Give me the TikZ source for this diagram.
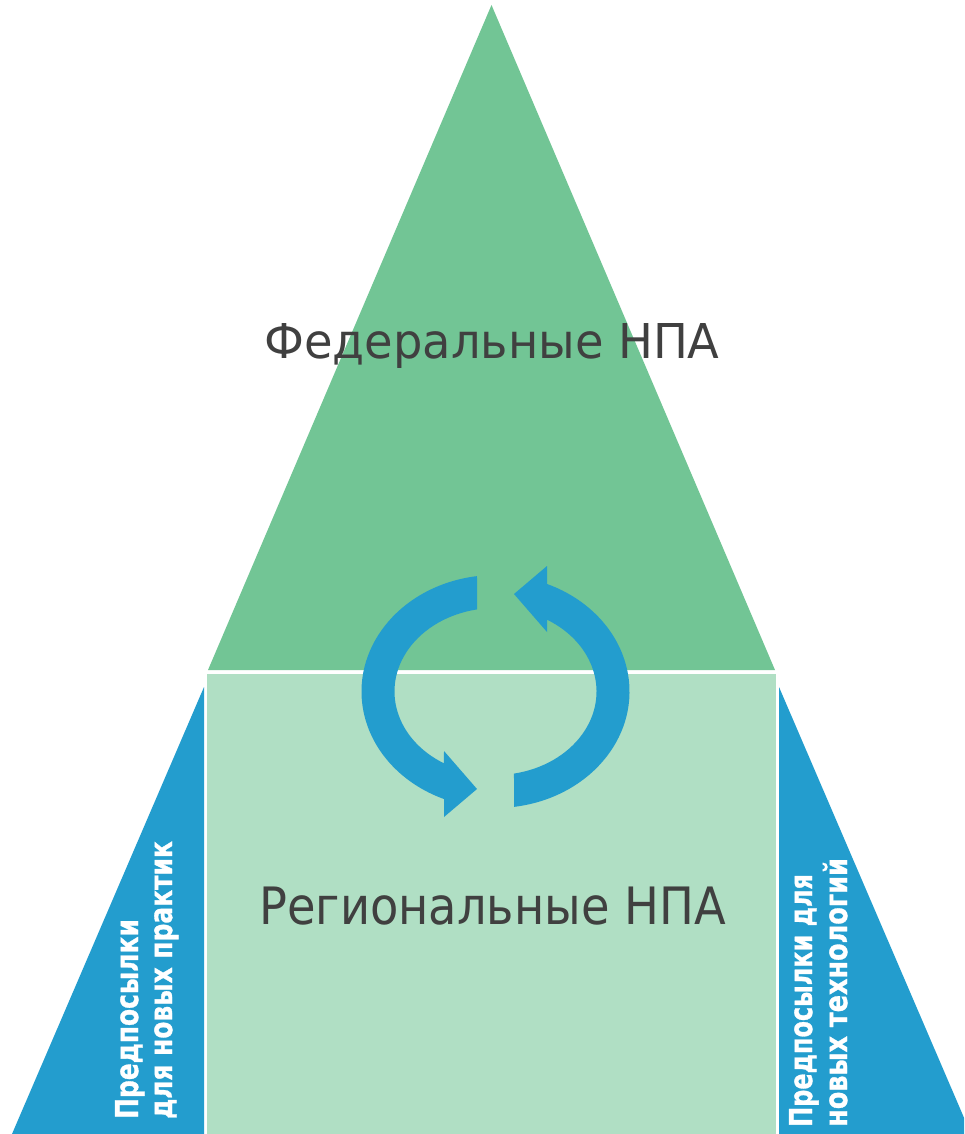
\documentclass[tikz,border=0pt]{standalone}
\usepackage{fontspec}
\usepackage{graphicx}
\usetikzlibrary{calc}
\setmainfont{DejaVu Sans}
\newfontfamily\sidefont{DejaVu Sans}[BoldFeatures={FakeBold=1.2}]
\definecolor{fedgreen}{HTML}{72C595}
\definecolor{reggreen}{HTML}{B0DFC4}
\definecolor{sideblue}{HTML}{239DCE}
\definecolor{labelgray}{HTML}{404040}
\tikzset{
  mainlabel/.style={anchor=base, inner sep=0pt, text=labelgray},
  sidelabel/.style={anchor=base west, inner sep=0pt, rotate=90, text=white,
    font=\sidefont\fontsize{31.5}{34}\selectfont\bfseries},
  cyclearrow/.style={fill=sideblue}
}
\begin{document}
\begin{tikzpicture}[x=1pt,y=-1pt]
\useasboundingbox (0,0) rectangle (964,1134);
\clip (0,0) rectangle (964,1134);
\fill[white] (0,0) rectangle (964,1134);
% federal triangle
\fill[fedgreen] (491.5,5) -- (775,670) -- (208,670) -- cycle;
% regional rectangle
\fill[reggreen] (207,674) rectangle (776,1134);
% side triangles
\fill[sideblue] (204,687) -- (204,1134) -- (12,1134) -- cycle;
\fill[sideblue] (779,687) -- (971,1134) -- (779,1134) -- cycle;
% cycle arrows
\coordinate (c) at (495.5,691.5);
\fill[cyclearrow] (c) ++(262.06:134 and 116.5)
  arc[start angle=262.06, end angle=112.6, x radius=134, y radius=116.5]
  -- (444,817) -- (477,789) -- (444,751)
  -- ($(c)+(120.7:101 and 83.5)$)
  arc[start angle=120.7, end angle=259.45, x radius=101, y radius=83.5] -- cycle;
\fill[cyclearrow] (c) ++(82.06:134 and 116.5)
  arc[start angle=82.06, end angle=-67.4, x radius=134, y radius=116.5]
  -- (547,566) -- (514,594) -- (547,632)
  -- ($(c)+(-59.3:101 and 83.5)$)
  arc[start angle=-59.3, end angle=79.45, x radius=101, y radius=83.5] -- cycle;
% labels
\node[mainlabel, font=\fontsize{48}{52}\selectfont] (fed) at (492,358) {\scalebox{0.966}[1]{Федеральные НПА}};
\node[mainlabel, font=\fontsize{51.5}{56}\selectfont] (reg) at (492.5,924) {\scalebox{0.9}[1]{Региональные НПА}};
\node[sidelabel] (l1) at (138,1119) {\scalebox{0.79}[1]{Предпосылки}};
\node[sidelabel] (l2) at (172,1119) {\scalebox{0.79}[1]{для новых практик}};
\node[sidelabel] (r1) at (812,1127) {\scalebox{0.76}[1]{Предпосылки для}};
\node[sidelabel] (r2) at (847,1127) {\scalebox{0.81}[1]{новых технологий}};
\end{tikzpicture}
\end{document}
